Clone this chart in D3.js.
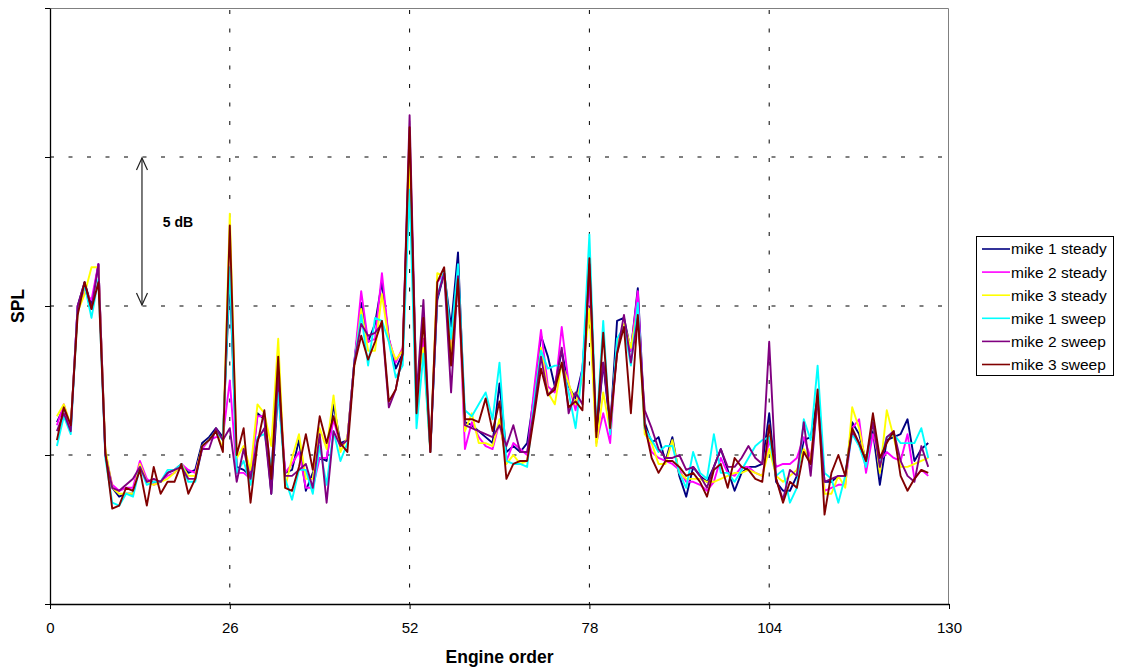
<!DOCTYPE html>
<meta charset="utf-8">
<style>
    body { margin: 0; background: #fff; }
    svg { font-family: Arial, "Liberation Sans", sans-serif; }
    .grid line { stroke: #000; stroke-width: 1px; stroke-dasharray: 4, 14.5; }
    .series { fill: none; stroke-width: 1.9px; stroke-linejoin: round; }
    .axis path, .axis line { stroke: #000; }
    .axis text { font-size: 15px; fill: #000; }
    .title { font-size: 17.5px; font-weight: bold; }
    .legend text { font-size: 15.5px; }
</style>
<body>
<script src="https://d3js.org/d3.v7.min.js"></script>
<script>
    // engine orders 1..127
    var orders = d3.range(1, 128);

    // SPL in dB
    var mike1Steady = [61.1, 61.6, 60.9, 65.0, 65.8, 65.0, 66.4, 60.1, 58.9, 58.6,
        58.7, 58.7, 59.7, 59.1, 59.1, 59.1, 59.4, 59.5, 59.7, 59.4,
        59.5, 60.4, 60.6, 60.9, 60.6, 66.0, 59.6, 59.5, 59.3, 61.4,
        61.2, 58.7, 62.2, 59.4, 59.5, 60.5, 58.8, 59.4, 59.9, 59.8,
        61.7, 60.4, 60.5, 63.1, 65.1, 63.8, 64.4, 65.8, 63.9, 62.9,
        63.4, 70.2, 62.2, 63.8, 60.2, 65.2, 66.1, 64.3, 66.8, 61.1,
        61.0, 60.8, 60.6, 60.4, 62.4, 60.1, 60.3, 60.1, 60.4, 62.0,
        64.0, 63.3, 62.3, 63.5, 62.3, 61.9, 62.9, 66.2, 60.6, 63.1,
        60.9, 64.5, 64.6, 63.5, 65.6, 61.1, 60.4, 60.6, 59.8, 60.6,
        59.3, 58.6, 59.6, 59.3, 59.1, 59.6, 60.2, 59.5, 58.8, 59.4,
        59.6, 59.6, 59.7, 61.4, 59.1, 58.8, 58.8, 59.3, 60.5, 60.6,
        61.9, 59.1, 59.1, 59.3, 59.3, 61.1, 60.7, 59.8, 60.8, 59.0,
        60.5, 60.6, 60.7, 61.2, 59.8, 60.2, 60.4];

    var mike2Steady = [61.0, 61.7, 60.9, 65.0, 65.5, 65.2, 66.4, 60.0, 59.0, 58.8,
        58.9, 58.9, 59.8, 59.2, 59.0, 59.1, 59.3, 59.4, 59.7, 59.5,
        59.4, 60.2, 60.5, 60.6, 60.6, 62.5, 59.4, 59.4, 59.2, 61.3,
        61.3, 59.4, 62.9, 59.4, 59.7, 60.1, 58.9, 58.9, 59.9, 59.9,
        61.2, 60.3, 60.5, 63.1, 65.5, 63.8, 63.9, 66.1, 63.9, 63.1,
        63.6, 70.6, 62.0, 63.9, 60.1, 65.8, 66.1, 63.4, 66.1, 60.2,
        61.1, 60.6, 60.3, 60.2, 61.1, 59.8, 60.4, 60.2, 60.0, 62.2,
        64.2, 62.3, 62.1, 64.3, 62.4, 61.5, 62.9, 65.9, 60.4, 61.4,
        60.4, 63.8, 64.3, 63.5, 65.5, 60.9, 60.1, 59.9, 59.8, 59.7,
        59.5, 59.1, 59.1, 59.0, 58.8, 59.1, 59.9, 59.4, 59.3, 59.6,
        59.6, 59.4, 59.3, 60.5, 59.6, 59.7, 59.7, 59.9, 60.6, 59.9,
        61.7, 58.8, 58.9, 59.0, 59.0, 60.9, 61.2, 59.4, 60.7, 59.8,
        60.1, 59.9, 59.8, 60.7, 59.2, 59.5, 59.3];

    var mike3Steady = [61.3, 61.7, 61.0, 64.8, 65.4, 66.3, 66.3, 60.2, 58.9, 58.7,
        58.7, 58.7, 59.7, 59.1, 59.0, 59.1, 59.2, 59.4, 59.7, 59.3,
        59.3, 60.3, 60.5, 60.8, 60.2, 68.1, 59.9, 60.3, 59.5, 61.7,
        61.4, 60.3, 63.9, 58.9, 59.9, 60.7, 59.2, 59.2, 60.9, 60.2,
        62.0, 60.1, 60.6, 63.0, 64.9, 63.5, 63.5, 65.4, 63.8, 63.2,
        63.5, 69.9, 62.3, 63.6, 60.1, 66.1, 66.0, 63.3, 66.1, 60.8,
        61.4, 60.4, 60.4, 60.3, 61.2, 59.7, 60.0, 59.7, 59.8, 61.7,
        63.6, 62.1, 61.7, 63.1, 62.4, 61.7, 62.6, 64.9, 60.3, 62.1,
        60.8, 63.7, 64.4, 63.6, 64.9, 60.7, 60.4, 59.7, 59.7, 60.5,
        59.4, 59.2, 59.2, 59.2, 59.1, 59.1, 59.2, 59.3, 59.4, 59.4,
        59.5, 59.4, 59.3, 60.2, 59.3, 59.1, 59.3, 59.5, 60.2, 59.8,
        61.8, 58.7, 58.7, 59.3, 58.9, 61.6, 60.9, 59.7, 61.2, 59.4,
        61.5, 60.6, 59.6, 59.6, 59.7, 59.8, 59.9];

    var mike1Sweep = [60.3, 61.3, 60.7, 64.9, 65.7, 64.6, 65.9, 59.9, 58.4, 58.3,
        58.7, 58.6, 59.6, 59.0, 59.1, 59.1, 59.5, 59.5, 59.7, 59.1,
        59.1, 60.3, 60.5, 60.8, 60.5, 66.3, 59.4, 59.8, 59.0, 60.6,
        60.7, 59.6, 62.1, 59.2, 58.5, 59.5, 59.5, 58.7, 60.3, 59.0,
        60.8, 59.8, 60.4, 63.1, 64.7, 63.0, 64.6, 64.5, 63.8, 62.6,
        63.0, 68.9, 60.9, 63.4, 60.1, 65.3, 66.2, 63.9, 66.4, 61.5,
        61.3, 61.7, 62.1, 61.2, 63.1, 59.8, 59.7, 59.7, 59.6, 61.8,
        63.5, 62.9, 63.0, 63.0, 62.1, 60.9, 62.9, 67.4, 60.8, 64.5,
        60.7, 63.9, 64.3, 63.0, 65.1, 60.9, 60.5, 60.1, 60.3, 60.3,
        59.4, 58.9, 60.1, 59.4, 59.2, 60.7, 59.4, 59.4, 59.1, 59.5,
        59.9, 60.3, 60.5, 60.6, 59.3, 59.5, 58.4, 58.9, 61.2, 60.5,
        63.0, 59.4, 59.2, 58.4, 59.3, 60.7, 60.3, 59.6, 61.2, 59.7,
        60.6, 60.7, 60.4, 60.4, 60.4, 60.9, 59.9];

    var mike2Sweep = [60.8, 61.4, 60.8, 65.0, 65.8, 64.9, 66.4, 60.0, 58.9, 58.8,
        59.0, 59.2, 59.6, 59.1, 59.2, 59.1, 59.4, 59.5, 59.6, 59.2,
        59.2, 60.2, 60.2, 60.9, 60.5, 60.9, 59.1, 60.2, 59.2, 60.5,
        60.9, 58.7, 62.7, 59.3, 59.3, 59.5, 59.7, 58.9, 60.7, 58.4,
        60.8, 60.3, 60.5, 63.1, 64.4, 64.0, 64.1, 64.4, 61.6, 62.2,
        63.4, 71.4, 62.0, 65.2, 60.1, 65.3, 66.1, 62.1, 66.0, 61.0,
        60.9, 60.8, 60.7, 60.6, 61.0, 60.3, 61.0, 60.1, 60.1, 61.5,
        63.3, 62.0, 62.3, 63.6, 61.4, 62.1, 61.7, 66.4, 60.8, 63.1,
        61.1, 63.4, 64.7, 63.1, 64.6, 61.5, 60.9, 60.2, 59.9, 59.9,
        60.0, 59.5, 59.6, 59.3, 58.9, 59.6, 60.2, 59.6, 59.6, 59.9,
        60.3, 59.9, 59.7, 63.8, 59.2, 58.5, 59.5, 59.3, 61.1, 59.3,
        61.9, 59.1, 59.2, 59.3, 59.3, 60.8, 60.4, 59.8, 61.1, 59.6,
        60.6, 60.8, 59.8, 59.3, 59.1, 60.3, 59.6];

    var mike3Sweep = [60.5, 61.6, 61.0, 64.7, 65.8, 64.9, 65.8, 60.1, 58.2, 58.3,
        58.9, 58.8, 59.5, 58.3, 59.6, 58.7, 59.1, 59.1, 59.7, 58.7,
        59.2, 60.3, 60.5, 60.8, 60.1, 67.7, 60.0, 60.9, 58.4, 60.4,
        61.5, 59.2, 63.3, 58.9, 58.8, 59.6, 60.7, 59.5, 61.3, 60.4,
        61.3, 60.4, 60.1, 63.0, 64.0, 63.2, 63.8, 64.5, 61.8, 62.2,
        63.4, 71.0, 61.4, 64.6, 60.1, 65.8, 66.3, 63.0, 65.9, 61.2,
        61.2, 61.1, 61.9, 60.8, 61.8, 59.2, 59.7, 59.8, 59.8, 61.3,
        62.9, 62.0, 62.2, 63.1, 61.6, 61.8, 61.5, 66.6, 60.6, 64.1,
        60.9, 63.4, 64.3, 61.4, 64.7, 61.0, 59.9, 59.4, 59.8, 59.8,
        59.6, 59.3, 59.4, 59.1, 58.6, 59.5, 59.7, 58.9, 59.9, 59.6,
        59.5, 59.2, 59.1, 61.0, 59.2, 58.4, 59.1, 58.9, 60.1, 59.7,
        62.2, 58.0, 59.4, 60.0, 59.3, 60.9, 60.4, 59.8, 61.4, 59.9,
        60.4, 60.8, 59.3, 58.8, 59.2, 59.5, 59.4];

    var seriesNames = ["mike 1 steady", "mike 2 steady", "mike 3 steady",
        "mike 1 sweep", "mike 2 sweep", "mike 3 sweep"];
    var seriesValues = [mike1Steady, mike2Steady, mike3Steady, mike1Sweep, mike2Sweep, mike3Sweep];
    var seriesColors = ["#000080", "#ff00ff", "#ffff00", "#00ffff", "#800080", "#800000"];

    var xTicks = [0, 26, 52, 78, 104, 130];
    var yTicks = [55, 60, 65, 70, 75];
    var yGrid = [60, 65, 70];

    // the 5 dB bracket
    var bracket = {order: 13.3, from: 65, to: 70, label: "5 dB"};

    // set the dimensions and margins of the graph
    var margin = {top: 8, right: 172, bottom: 64, left: 50},
        width = 899,
        height = 596;

    var x = d3.scaleLinear().domain([0, 130]).range([0, width]);
    var y = d3.scaleLinear().domain([55, 75]).range([height, 0]);

    var svg = d3.select("body").append("svg")
        .attr("width", width + margin.left + margin.right)
        .attr("height", height + margin.top + margin.bottom);

    var g = svg.append("g")
        .attr("transform", "translate(" + margin.left + "," + margin.top + ")");

    // grid lines
    var grid = g.append("g").attr("class", "grid");
    grid.selectAll(".h").data(yGrid).enter().append("line")
        .attr("x1", 0).attr("x2", width)
        .attr("y1", function(d) { return y(d); })
        .attr("y2", function(d) { return y(d); });
    grid.selectAll(".v").data(xTicks.slice(1, -1)).enter().append("line")
        .attr("y1", 2).attr("y2", height)
        .attr("x1", function(d) { return x(d); })
        .attr("x2", function(d) { return x(d); });

    // plot area border (top, right)
    g.append("path")
        .attr("d", "M0,0.5H" + (width - 0.5) + "V" + height)
        .attr("fill", "none")
        .attr("stroke", "#808080");

    // the lines
    var line = d3.line()
        .x(function(d) { return x(d[0]); })
        .y(function(d) { return y(d[1]); });

    seriesValues.forEach(function(vals, i) {
        g.append("path")
            .datum(orders.map(function(o, k) { return [o, vals[k]]; }))
            .attr("class", "series")
            .attr("stroke", seriesColors[i])
            .attr("d", line);
    });

    // axes
    g.append("g")
        .attr("class", "axis")
        .attr("transform", "translate(0," + height + ")")
        .call(d3.axisBottom(x).tickValues(xTicks).tickSize(5).tickSizeOuter(0).tickPadding(13))
        .call(function(s) { s.select(".domain").attr("stroke-width", 1.3); });

    g.append("g")
        .attr("class", "axis")
        .call(d3.axisLeft(y).tickValues(yTicks).tickSize(5).tickSizeOuter(0).tickFormat(""))
        .call(function(s) { s.select(".domain").attr("stroke-width", 1.3); });

    // axis titles
    svg.append("text")
        .attr("class", "title")
        .attr("x", margin.left + width / 2)
        .attr("y", 663)
        .attr("text-anchor", "middle")
        .text("Engine order");

    svg.append("text")
        .attr("class", "title")
        .attr("transform", "translate(24," + (margin.top + y(65)) + ") rotate(-90)")
        .attr("text-anchor", "middle")
        .text("SPL");

    // 5 dB bracket
    var bx = x(bracket.order), by1 = y(bracket.to), by2 = y(bracket.from);
    var ann = g.append("g").attr("stroke", "#222").attr("fill", "none").attr("stroke-width", 1.2);
    ann.append("line").attr("x1", bx).attr("x2", bx).attr("y1", by1 + 1).attr("y2", by2 - 1);
    ann.append("path").attr("d", "M" + (bx - 5.5) + "," + (by1 + 13) + "L" + bx + "," + (by1 + 1) + "L" + (bx + 5.5) + "," + (by1 + 13));
    ann.append("path").attr("d", "M" + (bx - 5.5) + "," + (by2 - 13) + "L" + bx + "," + (by2 - 1) + "L" + (bx + 5.5) + "," + (by2 - 13));

    g.append("text")
        .attr("x", bx + 36)
        .attr("y", (by1 + by2) / 2 - 5)
        .attr("text-anchor", "middle")
        .style("font-size", "14px")
        .style("font-weight", "bold")
        .text(bracket.label);

    // legend
    var legend = svg.append("g").attr("class", "legend");
    legend.append("rect")
        .attr("x", 976.5).attr("y", 236.5)
        .attr("width", 137).attr("height", 139)
        .attr("fill", "#fff").attr("stroke", "#000");

    var items = legend.selectAll(".item").data(seriesNames).enter().append("g")
        .attr("transform", function(d, i) { return "translate(0," + (249 + i * 23.1) + ")"; });
    items.append("line")
        .attr("x1", 982).attr("x2", 1010)
        .attr("stroke-width", 1.6)
        .attr("stroke", function(d, i) { return seriesColors[i]; });
    items.append("text")
        .attr("x", 1011)
        .attr("dy", "0.35em")
        .text(function(d) { return d; });
</script>
</body>
